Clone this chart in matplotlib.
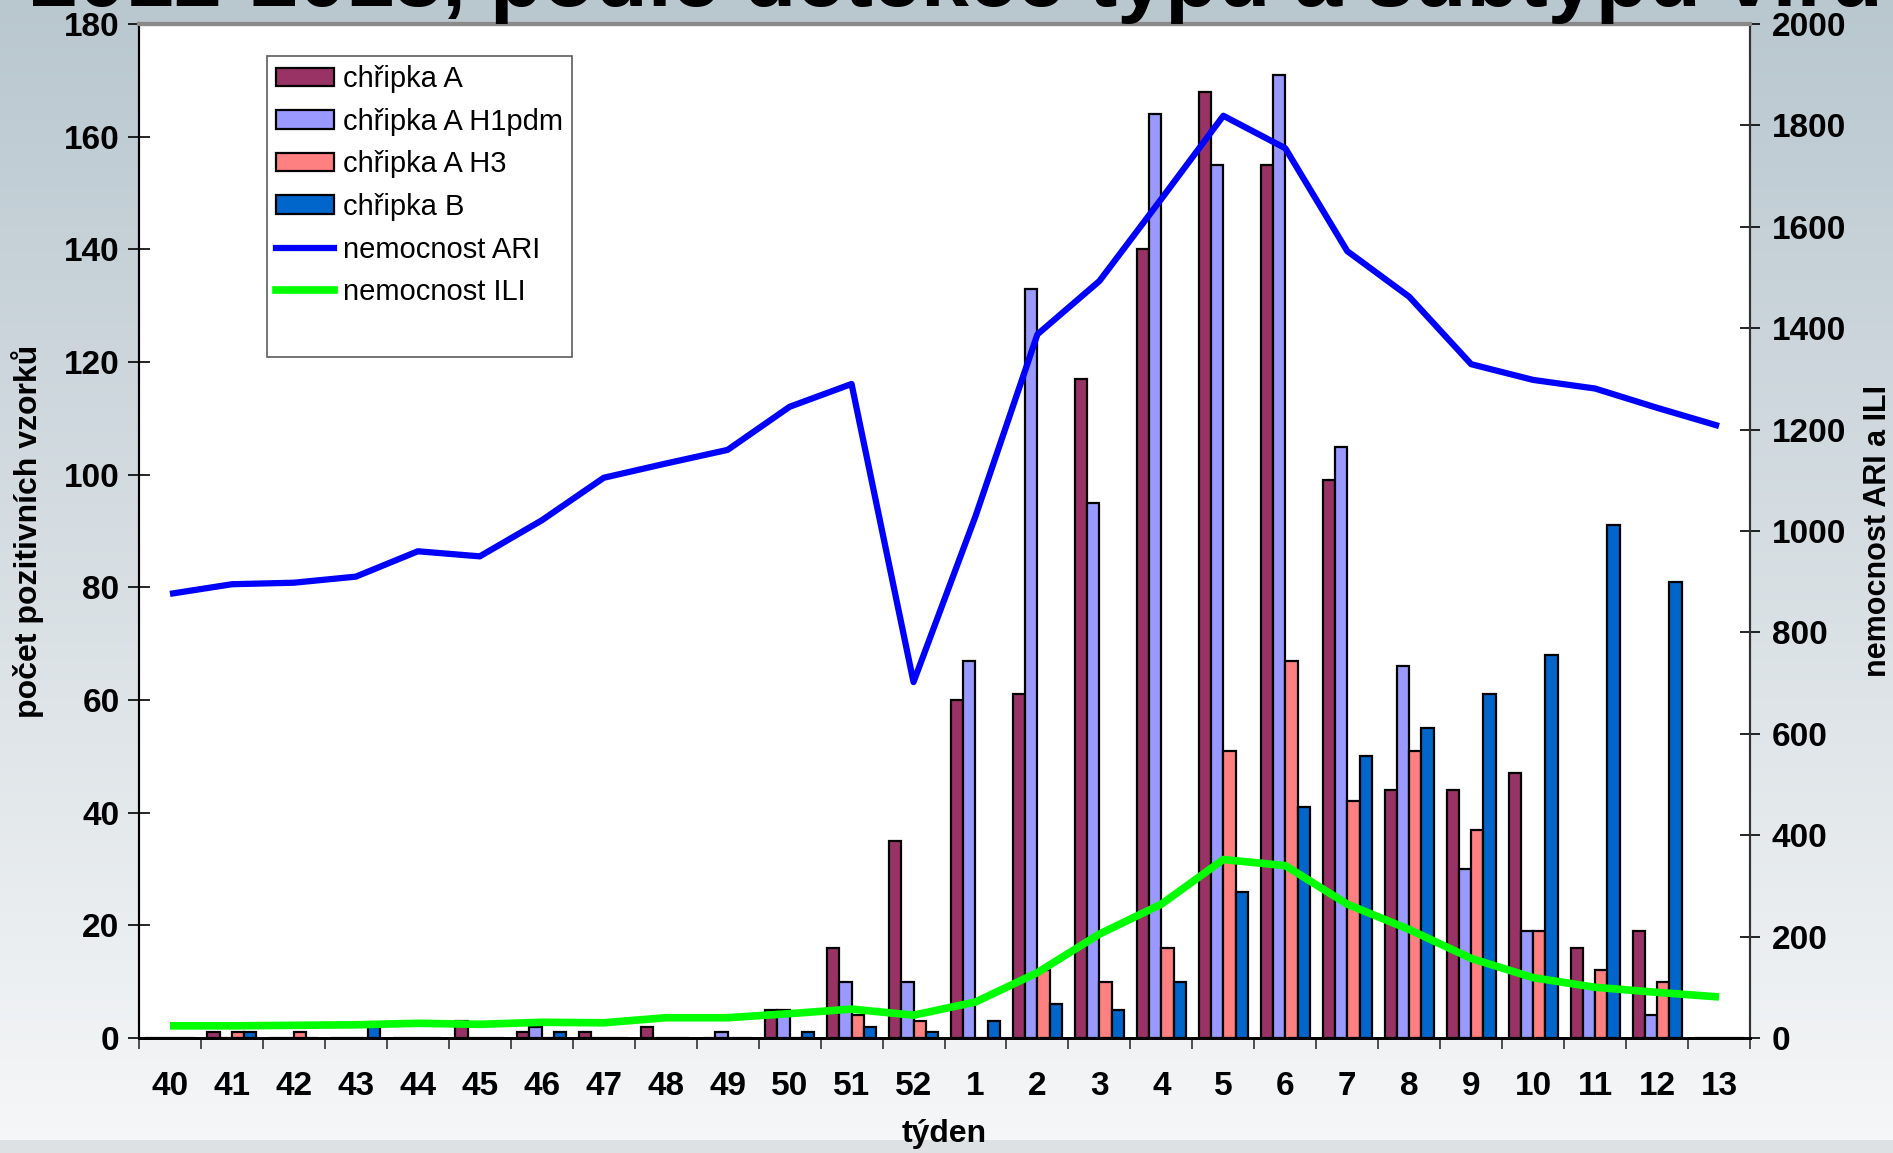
import numpy as np
import matplotlib
matplotlib.use('Agg')
import matplotlib.pyplot as plt
from matplotlib.patches import Patch
from matplotlib.lines import Line2D

plt.rcParams['font.family'] = ['Liberation Sans', 'DejaVu Sans']

# ---------------- data
weeks = ['40', '41', '42', '43', '44', '45', '46', '47', '48', '49', '50', '51', '52',
         '1', '2', '3', '4', '5', '6', '7', '8', '9', '10', '11', '12', '13']
# počet pozitivních vzorků
flu_A     = [0, 1, 0, 0, 0, 3, 1, 1, 2, 0, 5, 16, 35, 60, 61, 117, 140, 168, 155, 99, 44, 44, 47, 16, 19, 0]
flu_H1pdm = [0, 0, 0, 0, 0, 0, 2, 0, 0, 1, 5, 10, 10, 67, 133, 95, 164, 155, 171, 105, 66, 30, 19, 9, 4, 0]
flu_H3    = [0, 1, 1, 0, 0, 0, 0, 0, 0, 0, 0, 4, 3, 0, 12, 10, 16, 51, 67, 42, 51, 37, 19, 12, 10, 0]
flu_B     = [0, 1, 0, 2, 0, 0, 1, 0, 0, 0, 1, 2, 1, 3, 6, 5, 10, 26, 41, 50, 55, 61, 68, 91, 81, 0]
# nemocnost (na 100 000)
ari = [876, 895, 898, 910, 960, 950, 1021, 1105, 1133, 1160, 1245, 1290, 702,
       1029, 1388, 1493, 1655, 1819, 1755, 1552, 1462, 1329, 1298, 1281, 1243, 1207]
ili = [24, 24, 25, 26, 29, 27, 31, 30, 40, 40, 48, 57, 45,
       71, 129, 205, 264, 352, 340, 264, 214, 157, 119, 100, 90, 81]

bar_names = ['chřipka A', 'chřipka A H1pdm', 'chřipka A H3', 'chřipka B']
bar_colors = ['#993366', '#9999ff', '#ff8080', '#0066cc']

# ---------------- figure
fig = plt.figure(figsize=(18.93, 11.53), dpi=100)

# background gradient
bg = fig.add_axes([0, 0, 1, 1], zorder=-10)
n = 1153
top = np.array([185, 199, 207]) / 255.0
bot = np.array([246, 247, 248]) / 255.0
t = np.linspace(0, 1, n)[:, None]
grad = top * (1 - t) + bot * t
grad[1140:] = np.array([222, 225, 228]) / 255.0
bg.imshow(grad[:, None, :].repeat(2, axis=1), aspect='auto', extent=[0, 1, 0, 1])
bg.axis('off')

# title (cut off at the top of the slide)
fig.text(0.505, 0.995, '2012-2013, podle detekce typu a subtypu viru', ha='center', va='baseline',
         fontsize=62, fontweight='bold', family=['Liberation Sans Narrow', 'Liberation Sans'])

ax = fig.add_axes([139 / 1893, 1 - 1038 / 1153, (1750 - 139) / 1893, (1038 - 24) / 1153])
ax.set_facecolor('white')
ax2 = ax.twinx()

x = np.arange(len(weeks))
w = 0.198
series = [flu_A, flu_H1pdm, flu_H3, flu_B]
for k, vals in enumerate(series):
    ax.bar(x + (k - 1.5) * w, vals, width=w, color=bar_colors[k], edgecolor='black',
           linewidth=1.6, zorder=3)

ax2.plot(x, ari, color='#0000ff', linewidth=4.5, solid_capstyle='butt', zorder=4)
ax2.plot(x, ili, color='#00ff00', linewidth=5.5, solid_capstyle='butt', zorder=4)

ax.set_xlim(-0.5, len(weeks) - 0.5)
ax.set_ylim(0, 180)
ax2.set_ylim(0, 2000)
ax.set_yticks(range(0, 181, 20))
ax2.set_yticks(range(0, 2001, 200))

ax.set_xticks(x)
ax.set_xticklabels(weeks)
ax.set_xticks(np.arange(-0.5, len(weeks), 1.0), minor=True)
ax.tick_params(axis='x', which='major', length=0, pad=24, labelsize=24)
ax.tick_params(axis='x', which='minor', length=8, width=1.2, direction='out', color='#333333')
ax.tick_params(axis='y', length=16, width=1.2, direction='inout', pad=6, labelsize=24)
ax2.tick_params(axis='y', length=15, width=1.2, direction='inout', pad=8, labelsize=24)
for lab in ax.get_xticklabels() + ax.get_yticklabels() + ax2.get_yticklabels():
    lab.set_fontweight('bold')

for a in (ax, ax2):
    a.spines['top'].set_color('#8a8a8a')
    a.spines['top'].set_linewidth(3)
    a.spines['left'].set_linewidth(1.5)
    a.spines['right'].set_linewidth(1.5)
    a.spines['right'].set_color('#333333')
    a.spines['bottom'].set_linewidth(2)

ax.set_xlabel('týden', fontsize=23, fontweight='bold', labelpad=12)
ax.set_ylabel('počet pozitivních vzorků', fontsize=23, fontweight='bold', labelpad=14)
ax2.set_ylabel('nemocnost ARI a ILI', fontsize=22, fontweight='bold', labelpad=12)

handles = [Patch(facecolor=c, edgecolor='black', linewidth=1.6) for c in bar_colors]
handles += [Line2D([], [], color='#0000ff', linewidth=4.5),
            Line2D([], [], color='#00ff00', linewidth=5.5),
            Line2D([], [], color='none')]
labels = bar_names + ['nemocnost ARI', 'nemocnost ILI', ' ']
leg = ax2.legend(handles, labels, loc='upper left', bbox_to_anchor=(0.0795, 0.968),
                 fontsize=21, frameon=True, fancybox=False, borderpad=0.3,
                 labelspacing=0.5, handlelength=2.0, handleheight=0.6, handletextpad=0.3,
                 borderaxespad=0)
leg.get_frame().set_edgecolor('#333333')
leg.get_frame().set_linewidth(1.2)

fig.savefig('out.png', dpi=100)
plt.close(fig)
